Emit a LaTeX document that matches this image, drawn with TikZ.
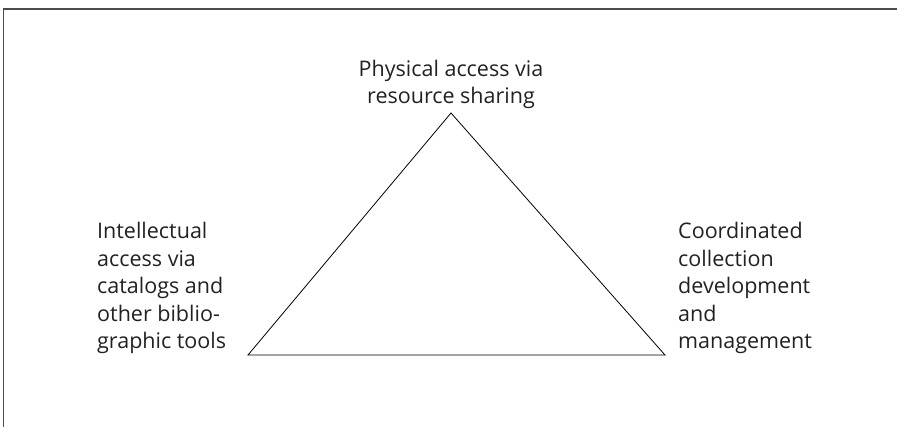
\documentclass[tikz,border=0pt]{standalone}
\usepackage{fontspec}
\setmainfont{Open Sans}
\begin{document}
\begin{tikzpicture}[x=1pt,y=1pt,
  lbl/.style={font=\fontsize{21.5}{27.5}\selectfont, text=black!87, inner sep=0pt},
  frame/.style={draw=black!70, line width=1.6pt},
  tri/.style={draw=black, line width=0.8pt, line join=miter}]
\useasboundingbox (0,0) rectangle (897,427);
\coordinate (fbl) at (3.5,0);
\coordinate (ftl) at (3.5,418);
\coordinate (ftr) at (897,418);
\draw[frame] (fbl) -- (ftl) -- (ftr);
\coordinate (top) at (451,314);
\coordinate (bl) at (248,72);
\coordinate (br) at (665,72);
\draw[tri] (top) -- (br) -- (bl) -- cycle;
\node[lbl, align=center, anchor=base] (tl) at (451,323) {Physical access via\\resource sharing};
\node[lbl, align=left, anchor=base west] (ll) at (97,78) {Intellectual\\access via\\catalogs and\\other biblio-\\graphic tools};
\node[lbl, align=left, anchor=base west] (rl) at (678,78) {Coordinated\\collection\\development\\and\\management};
\end{tikzpicture}
\end{document}
